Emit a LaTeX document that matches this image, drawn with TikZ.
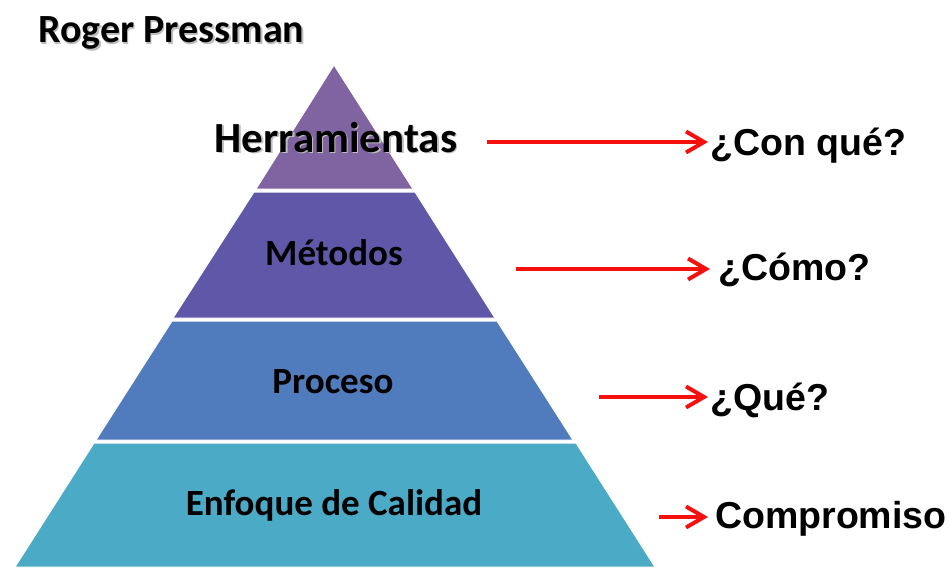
\documentclass[tikz,border=0pt]{standalone}
\usepackage{fontspec}
\setmainfont{Carlito}
\newfontfamily\arialb{Liberation Sans}[Scale=1.0]
\usetikzlibrary{arrows.meta}
\definecolor{lvlA}{HTML}{8064A2}
\definecolor{lvlB}{HTML}{5F58A9}
\definecolor{lvlC}{HTML}{507BBD}
\definecolor{lvlD}{HTML}{4BAAC5}
\definecolor{arrred}{HTML}{F50F0F}
\definecolor{shadowgray}{HTML}{BDBDBD}
\tikzset{
  level/.style={draw=white, line width=1pt},
  lbl/.style={font=\fontsize{37}{40}\selectfont\bfseries, inner sep=0pt, anchor=base},
  ans/.style={font=\arialb\fontsize{37.5}{40}\selectfont\bfseries, inner sep=0pt, anchor=base west},
  arr/.style={draw=arrred, line width=4pt, -{Straight Barb[length=18pt,width=21pt,line width=4pt]}},
}
\begin{document}
\begin{tikzpicture}[x=1pt,y=-1pt]
\useasboundingbox[fill=white] (0,0) rectangle (950,578);
% pyramid levels
\fill[lvlA, level] (334,65) -- (413,189) -- (256,189) -- cycle;
\fill[lvlB, level] (254,192) -- (415,192) -- (495,318) -- (173,318) -- cycle;
\fill[lvlC, level] (172,321) -- (497,321) -- (573,440) -- (96,440) -- cycle;
\fill[lvlD, level] (94,443) -- (576,443) -- (655,567) -- (15,567) -- cycle;
% title
\node[font=\fontsize{40}{44}\selectfont\bfseries, text=shadowgray, inner sep=0pt, anchor=base west] at (39.5,44.5) {Roger Pressman};
\node[font=\fontsize{40}{44}\selectfont\bfseries, inner sep=0pt, anchor=base west] (title) at (38,43) {Roger Pressman};
% labels
\node[lbl, font=\fontsize{43}{46}\selectfont\bfseries, text=shadowgray] at (337.5,153.5) {Herramientas};
\node[lbl, font=\fontsize{43}{46}\selectfont\bfseries] (herr) at (336,152) {Herramientas};
\node[lbl] (met) at (334,265) {Métodos};
\node[lbl] (proc) at (333,393) {Proceso};
\node[lbl] (enf) at (334,515) {Enfoque de Calidad};
% answers
\node[ans] (q1) at (710,155) {¿Con qué?};
\node[ans] (q2) at (718,280) {¿Cómo?};
\node[ans] (q3) at (710,410) {¿Qué?};
\node[ans] (q4) at (715,528) {Compromiso};
% arrow starts
\coordinate (s1) at (487,142);
\coordinate (s2) at (516,269);
\coordinate (s3) at (599,397);
\coordinate (s4) at (659,517);
\draw[arr, shorten >=2pt] (s1) -- (s1 -| q1.west);
\draw[arr, shorten >=8pt] (s2) -- (s2 -| q2.west);
\draw[arr, shorten >=2pt] (s3) -- (s3 -| q3.west);
\draw[arr, shorten >=7pt] (s4) -- (s4 -| q4.west);
\end{tikzpicture}
\end{document}
